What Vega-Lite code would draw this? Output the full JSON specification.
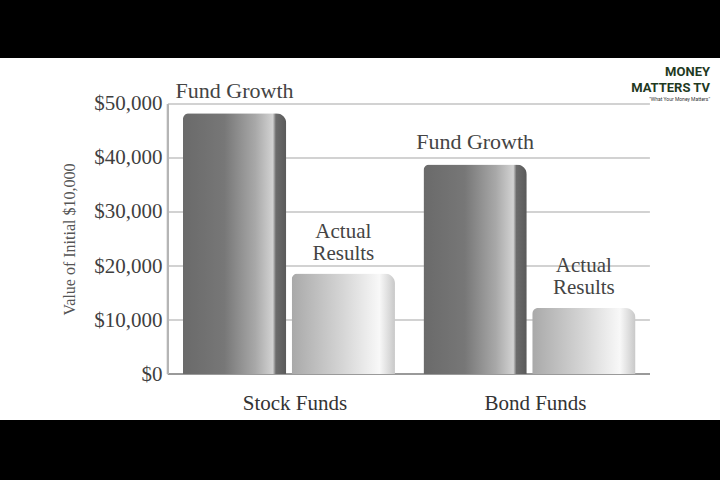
{
  "$schema": "https://vega.github.io/schema/vega-lite/v6.json",
  "width": 720,
  "height": 362,
  "autosize": {"type": "none"},
  "padding": {"top": 58, "bottom": 60, "left": 0, "right": 0},
  "background": "black",
  "config": {"view": {"fill": "white", "stroke": null}, "font": "Liberation Serif"},
  "title": {
    "text": ["MONEY", "MATTERS TV"],
    "subtitle": "\"What Your Money Matters\"",
    "anchor": "end",
    "frame": "group",
    "orient": "top",
    "offset": -44,
    "dx": -10,
    "font": "Roboto",
    "fontSize": 13,
    "fontWeight": "bold",
    "color": "#1f3a1f",
    "lineHeight": 16,
    "subtitleFont": "Roboto",
    "subtitleFontSize": 5,
    "subtitleColor": "#333",
    "subtitlePadding": 2
  },
  "datasets": {
    "bars": [
      {"fund": "Stock Funds", "series": "Fund Growth", "value": 48300},
      {"fund": "Stock Funds", "series": "Actual Results", "value": 18600},
      {"fund": "Bond Funds", "series": "Fund Growth", "value": 38800},
      {"fund": "Bond Funds", "series": "Actual Results", "value": 12200}
    ],
    "grid": [{"v": 10000}, {"v": 20000}, {"v": 30000}, {"v": 40000}, {"v": 50000}]
  },
  "layer": [
    {
      "data": {"name": "grid"},
      "mark": {"type": "rule", "color": "#d2d2d2", "strokeWidth": 2},
      "encoding": {
        "y": {
          "field": "v", "type": "quantitative",
          "scale": {"domain": [-8518.5, 58518.5], "nice": false, "zero": false},
          "axis": {
            "orient": "left", "offset": -168, "values": [0, 10000, 20000, 30000, 40000, 50000],
            "format": "$,d", "domain": false, "ticks": false, "grid": false,
            "labelFont": "Liberation Serif", "labelFontSize": 21, "labelColor": "#3f3f3f", "labelPadding": 6,
            "title": "Value of Initial $10,000", "titleFont": "Liberation Serif", "titleFontSize": 16,
            "titleFontWeight": "normal", "titleColor": "#555", "titlePadding": 16
          }
        },
        "x": {
          "datum": "Stock Funds", "bandPosition": -0.0708,
          "scale": {"domain": ["Stock Funds", "Bond Funds"], "paddingInner": 0.1185, "paddingOuter": 0.556, "align": 0.684},
          "axis": {
            "orient": "bottom", "offset": -46, "title": null, "domain": false, "ticks": false, "grid": false,
            "labelAngle": 0, "labelFont": "Liberation Serif", "labelFontSize": 21, "labelColor": "#333",
            "labelPadding": 18, "labelOffset": 6, "labelBaseline": "top"
          }
        },
        "x2": {"datum": "Bond Funds", "bandPosition": 1.068}
      }
    },
    {
      "data": {"name": "grid"},
      "mark": {"type": "rule", "color": "#9a9a9a", "strokeWidth": 2},
      "encoding": {
        "y": {"datum": 0, "type": "quantitative"},
        "x": {"datum": "Stock Funds", "bandPosition": -0.0708},
        "x2": {"datum": "Bond Funds", "bandPosition": 1.068}
      }
    },
    {
      "data": {"name": "grid"},
      "mark": {"type": "rule", "color": "#b5b5b5", "strokeWidth": 2},
      "encoding": {
        "x": {"datum": "Stock Funds", "bandPosition": -0.0708},
        "y": {"datum": 0, "type": "quantitative"},
        "y2": {"datum": 50000}
      }
    },
    {
      "data": {"name": "bars"},
      "transform": [{"filter": "datum.series === 'Fund Growth'"}],
      "mark": {
        "type": "bar",
        "cornerRadiusTopLeft": 6,
        "cornerRadiusTopRight": 10,
        "color": {
          "gradient": "linear", "x1": 0, "y1": 0, "x2": 1, "y2": 0,
          "stops": [
            {"offset": 0, "color": "#6a6a6a"},
            {"offset": 0.4, "color": "#777777"},
            {"offset": 0.7, "color": "#a8a8a8"},
            {"offset": 0.87, "color": "#d2d2d2"},
            {"offset": 0.9, "color": "#6c6c6c"},
            {"offset": 1, "color": "#5a5a5a"}
          ]
        }
      },
      "encoding": {
        "x": {"field": "fund", "type": "nominal"},
        "xOffset": {"field": "series", "type": "nominal", "scale": {"domain": ["Fund Growth", "Actual Results"], "paddingInner": 0.05, "paddingOuter": 0}},
        "y": {"field": "value", "type": "quantitative"}
      }
    },
    {
      "data": {"name": "bars"},
      "transform": [{"filter": "datum.series === 'Actual Results'"}],
      "mark": {
        "type": "bar",
        "cornerRadiusTopLeft": 6,
        "cornerRadiusTopRight": 10,
        "color": {
          "gradient": "linear", "x1": 0, "y1": 0, "x2": 1, "y2": 0,
          "stops": [
            {"offset": 0, "color": "#a9a9a9"},
            {"offset": 0.5, "color": "#d6d6d6"},
            {"offset": 0.85, "color": "#f8f8f8"},
            {"offset": 0.92, "color": "#e2e2e2"},
            {"offset": 1, "color": "#c8c8c8"}
          ]
        }
      },
      "encoding": {
        "x": {"field": "fund", "type": "nominal"},
        "xOffset": {"field": "series", "type": "nominal"},
        "y": {"field": "value", "type": "quantitative"}
      }
    },
    {
      "data": {"name": "bars"},
      "transform": [{"filter": "datum.series === 'Fund Growth'"}],
      "mark": {"type": "text", "font": "Liberation Serif", "fontSize": 22, "color": "#444", "baseline": "bottom", "dy": -10},
      "encoding": {
        "x": {"field": "fund", "type": "nominal"},
        "xOffset": {"field": "series", "type": "nominal"},
        "y": {"field": "value", "type": "quantitative"},
        "text": {"field": "series"}
      }
    },
    {
      "data": {"name": "bars"},
      "transform": [{"filter": "datum.series === 'Actual Results'"}],
      "mark": {"type": "text", "font": "Liberation Serif", "fontSize": 21, "color": "#444", "baseline": "bottom", "dy": -32, "lineBreak": " ", "lineHeight": 22},
      "encoding": {
        "x": {"field": "fund", "type": "nominal"},
        "xOffset": {"field": "series", "type": "nominal"},
        "y": {"field": "value", "type": "quantitative"},
        "text": {"field": "series"}
      }
    }
  ]
}
